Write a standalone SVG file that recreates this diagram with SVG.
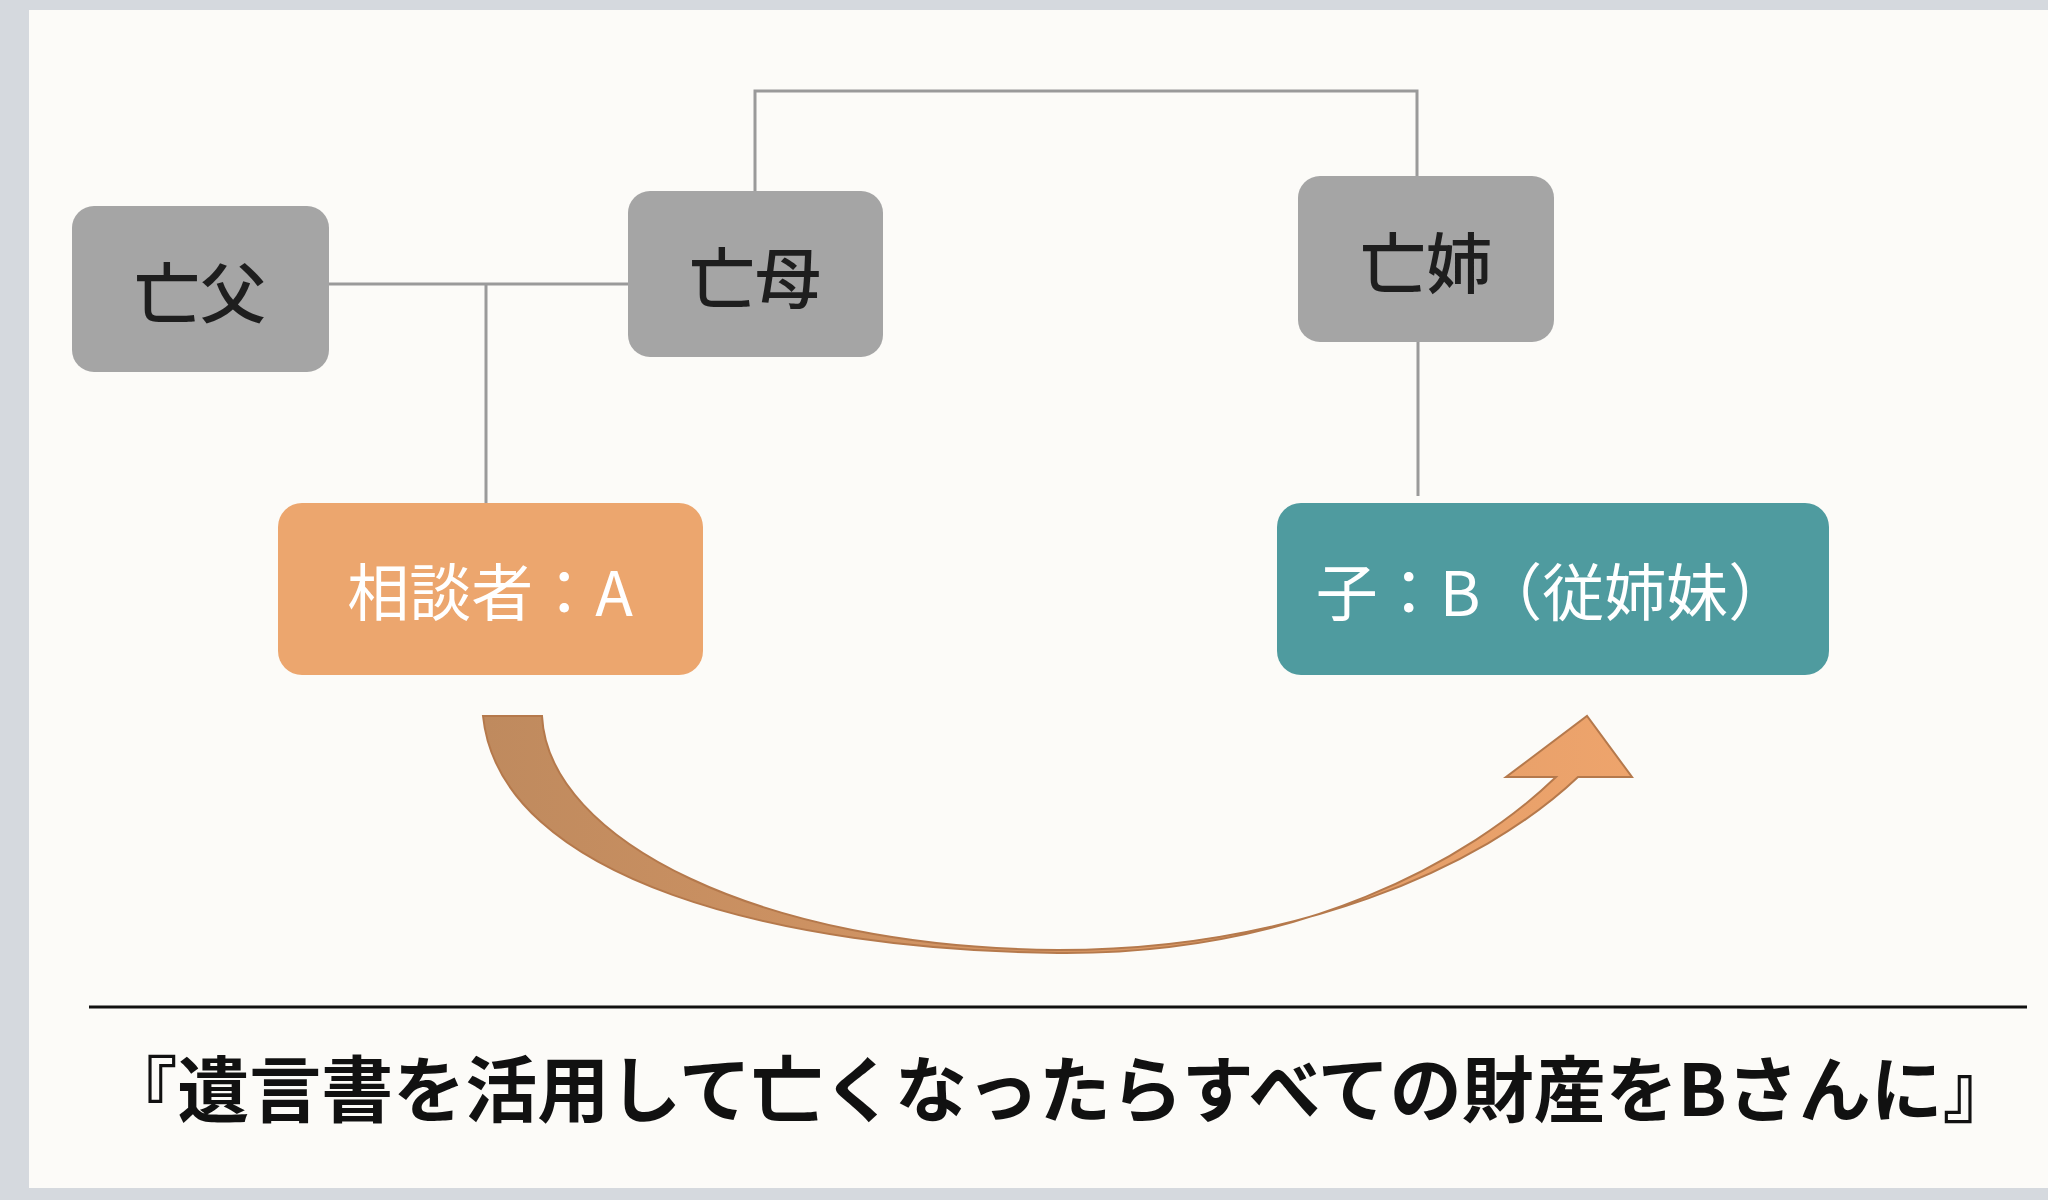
<svg xmlns="http://www.w3.org/2000/svg" width="2048" height="1200" viewBox="0 0 2048 1200">
<defs>
<style>
.g{fill:#a5a5a5}
.t{font-family:"Noto Sans CJK JP","Liberation Serif",serif;text-anchor:middle;dominant-baseline:central}
.d{font-size:66px;fill:#1e1e1e;font-weight:500}
.w{font-size:62px;fill:#fff}
.ln{stroke:#9a9a9a;stroke-width:3;fill:none}
</style>
<linearGradient id="ag" x1="0" y1="0" x2="1" y2="0">
<stop offset="0" stop-color="#bf8a5e"/><stop offset="1" stop-color="#eea46c"/>
</linearGradient>
</defs>
<rect width="2048" height="1200" fill="#d5d9de"/>
<rect x="29" y="10" width="2019" height="1178" fill="#fcfbf8"/>
<g id="connectors">
<path class="ln" d="M329,284 H628 M486,284 V503 M755,191 V91 H1417 V176 M1418,342 V496"/>
<path d="M483,716 L542,716 C548,840 760,948 1058,950 C1290,950 1480,870 1578,777 L1632,777 L1587,716 L1506,777 L1556,777 C1470,860 1300,955 1058,953 C780,950 500,880 483,716 Z" fill="url(#ag)" stroke="#b5794c" stroke-width="2"/>
</g>
<g id="father"><rect class="g" x="72" y="206" width="257" height="166" rx="22"/><text class="t d" x="200" y="289">亡父</text></g>
<g id="mother"><rect class="g" x="628" y="191" width="255" height="166" rx="22"/><text class="t d" x="755" y="274">亡母</text></g>
<g id="sister"><rect class="g" x="1298" y="176" width="256" height="166" rx="22"/><text class="t d" x="1426" y="259">亡姉</text></g>
<g id="A"><rect x="278" y="503" width="425" height="172" rx="24" fill="#eca66e"/><text class="t w" x="490" y="589">相談者：A</text></g>
<g id="B"><rect x="1277" y="503" width="552" height="172" rx="24" fill="#4f9b9f"/><text class="t w" x="1553" y="589">子：B（従姉妹）</text></g>
<line x1="89" y1="1007" x2="2027" y2="1007" stroke="#111" stroke-width="3"/>
<text class="t" x="1060" y="1084" font-size="72" font-weight="700" fill="#111">『遺言書を活用して亡くなったらすべての財産をBさんに』</text>
</svg>
